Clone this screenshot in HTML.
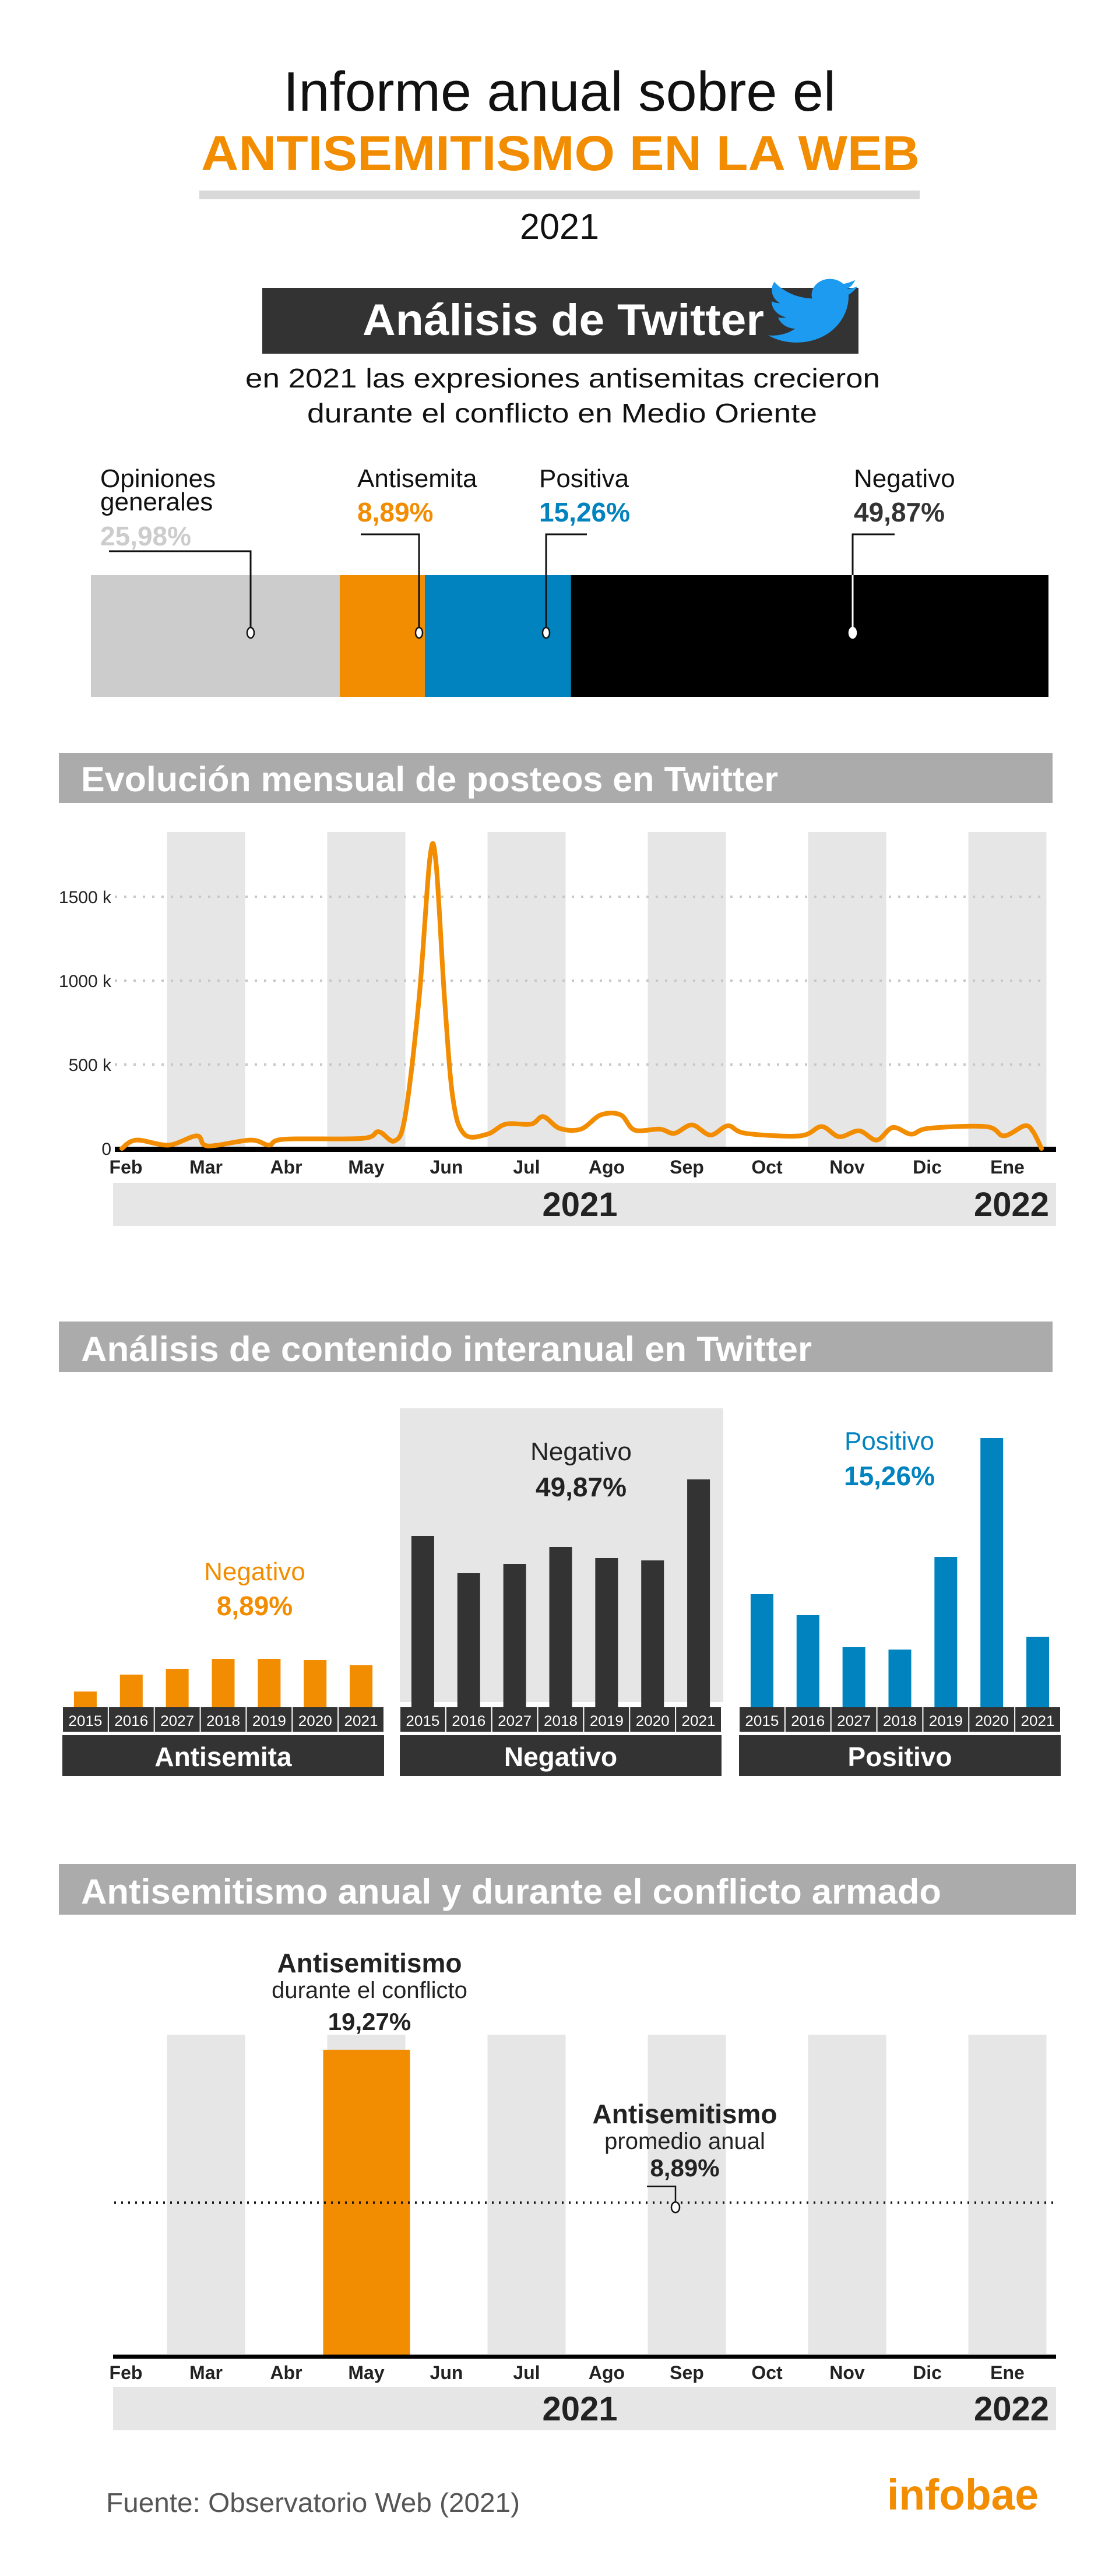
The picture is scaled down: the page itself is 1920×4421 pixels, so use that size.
<!DOCTYPE html>
<html lang="es">
<head>
<meta charset="utf-8">
<title>Informe anual sobre el antisemitismo en la web</title>
<style>
html,body{margin:0;padding:0;background:#fff;}
svg{display:block;}
text{font-family:"Liberation Sans Narrow","Liberation Sans",sans-serif;}
.b{font-weight:bold;}
</style>
</head>
<body>
<svg id="page" width="1920" height="4421" viewBox="0 0 1920 4421" xmlns="http://www.w3.org/2000/svg">
  <rect x="0" y="0" width="1920" height="4421" fill="#fff"/>
  <!-- Title -->
  <text x="486" y="190" font-size="96" fill="#111" textLength="948" lengthAdjust="spacingAndGlyphs">Informe anual sobre el</text>
  <text class="b" x="345" y="292" font-size="84" fill="#F28C00" textLength="1233" lengthAdjust="spacingAndGlyphs">ANTISEMITISMO EN LA WEB</text>
  <rect x="342" y="327" width="1236" height="15" fill="#d9d9d9"/>
  <text x="892" y="410" font-size="62" fill="#111" textLength="136" lengthAdjust="spacingAndGlyphs">2021</text>

  <!-- Twitter heading -->
  <rect x="450" y="494" width="1023" height="113" fill="#333"/>
  <text class="b" x="622" y="575" font-size="76" fill="#fff" textLength="689" lengthAdjust="spacingAndGlyphs">Análisis de Twitter</text>
  <path transform="translate(1318,466) scale(6.4,5.6)" fill="#1D9BF0" d="M23.954 4.569c-.885.389-1.83.654-2.825.775 1.014-.611 1.794-1.574 2.163-2.723-.951.555-2.005.959-3.127 1.184-.896-.959-2.173-1.559-3.591-1.559-2.717 0-4.92 2.203-4.92 4.917 0 .39.045.765.127 1.124C7.691 8.094 4.066 6.13 1.64 3.161c-.427.722-.666 1.561-.666 2.475 0 1.71.87 3.213 2.188 4.096-.807-.026-1.566-.248-2.228-.616v.061c0 2.385 1.693 4.374 3.946 4.827-.413.111-.849.171-1.296.171-.314 0-.615-.03-.916-.086.631 1.953 2.445 3.377 4.604 3.417-1.68 1.319-3.809 2.105-6.102 2.105-.39 0-.779-.023-1.17-.067 2.189 1.394 4.768 2.209 7.557 2.209 9.054 0 13.999-7.496 13.999-13.986 0-.209 0-.42-.015-.63.961-.689 1.8-1.6 2.46-2.548l-.047-.02z"/>
  <text x="421" y="665" font-size="46" fill="#111" textLength="1089" lengthAdjust="spacingAndGlyphs">en 2021 las expresiones antisemitas crecieron</text>
  <text x="527" y="725" font-size="46" fill="#111" textLength="875" lengthAdjust="spacingAndGlyphs">durante el conflicto en Medio Oriente</text>

  <g id="stacked"></g>

  <!-- Section 2 -->
  <rect x="101" y="1292" width="1705" height="86" fill="#ababab"/>
  <text class="b" x="139" y="1358" font-size="60" fill="#fff" textLength="1196" lengthAdjust="spacingAndGlyphs">Evolución mensual de posteos en Twitter</text>
  <g id="linechart"></g>

  <!-- Section 3 -->
  <rect x="101" y="2268" width="1705" height="87" fill="#ababab"/>
  <text class="b" x="139" y="2336" font-size="60" fill="#fff" textLength="1254" lengthAdjust="spacingAndGlyphs">Análisis de contenido interanual en Twitter</text>
  <g id="barpanels"></g>

  <!-- Section 4 -->
  <rect x="101" y="3199" width="1745" height="87" fill="#ababab"/>
  <text class="b" x="139" y="3267" font-size="60" fill="#fff" textLength="1476" lengthAdjust="spacingAndGlyphs">Antisemitismo anual y durante el conflicto armado</text>
  <g id="conflictchart"></g>

  <!-- Footer -->
  <text x="182" y="4311" font-size="46" fill="#555" textLength="710" lengthAdjust="spacingAndGlyphs">Fuente: Observatorio Web (2021)</text>
  <text class="b" x="1522" y="4307" font-size="74" fill="#F28C00" textLength="260" lengthAdjust="spacingAndGlyphs">infobae</text>
</svg>

<script>
// ---------- DATA ----------
const shareNames = ["Opiniones generales", "Antisemita", "Positiva", "Negativo"];
const shareValues = [25.98, 8.89, 15.26, 49.87];

const monthLabels = ["Feb","Mar","Abr","May","Jun","Jul","Ago","Sep","Oct","Nov","Dic","Ene"];
const yTickValues = [0, 500, 1000, 1500];
const yTickLabels = ["0", "500 k", "1000 k", "1500 k"];
// time in months since start of Feb, posts in thousands
const postTimes = [0,0.19,0.61,0.98,1.12,1.68,1.92,2.12,3.14,3.35,3.56,3.70,3.88,4.02,4.10,4.21,4.32,4.47,4.77,5.01,5.34,5.50,5.71,5.99,6.25,6.51,6.69,7.02,7.21,7.44,7.68,7.91,8.14,8.85,9.13,9.36,9.62,9.85,10.06,10.30,10.53,11.28,11.51,11.78,11.89,12.0];
const postValues = [0,50,20,75,15,50,20,55,60,100,45,200,900,1730,1700,900,300,85,85,145,145,190,120,115,200,200,110,115,90,140,80,135,90,75,130,70,105,50,125,85,120,130,75,135,100,0];

const yearLabels = ["2015","2016","2027","2018","2019","2020","2021"];
const antisemitaValues = [27,56,66,83,83,81,72];
const negativoValues = [294,230,246,275,256,252,391];
const positivoValues = [194,158,103,99,258,462,121];

const conflictMonth = "May";
const conflictValue = 19.27;
const annualAverage = 8.89;

// ---------- HELPERS ----------
const NS = "http://www.w3.org/2000/svg";
function mk(parent, tag, attrs, txt){
  const el = document.createElementNS(NS, tag);
  for (const k in attrs) el.setAttribute(k, attrs[k]);
  if (txt !== undefined) el.textContent = txt;
  parent.appendChild(el);
  return el;
}

// ---------- STACKED SHARE BAR ----------
(function(){
  const g = document.getElementById("stacked");
  const x0 = 156, x1 = 1799, y0 = 987, h = 209;
  const total = shareValues.reduce((a,b)=>a+b,0);
  const colors = ["#cccccc","#F28C00","#0083BE","#000000"];
  const names = ["share-bar-opiniones","share-bar-antisemita","share-bar-positiva","share-bar-negativo"];
  let x = x0;
  const segs = [];
  shareValues.forEach((v,i)=>{
    const w = v/total*(x1-x0);
    const r = mk(g,"rect",{x:x,y:y0,width:w,height:h,fill:colors[i]});
    
    
    segs.push([x,w]);
    x += w;
  });
  // labels & leader lines (annotation layout)
  const labelCfg = [
    {lines:["Opiniones","generales"], lx:172, ly:836, vy:936, vc:"#cccccc", px:430, hx:187, hy:946},
    {lines:["Antisemita"], lx:613, ly:836, vy:895, vc:"#F28C00", px:719, hx:619, hy:917},
    {lines:["Positiva"], lx:925, ly:836, vy:895, vc:"#0083BE", px:937, hx:1007, hy:917},
    {lines:["Negativo"], lx:1465, ly:836, vy:895, vc:"#333333", px:1463, hx:1535, hy:917}
  ];
  labelCfg.forEach((c,i)=>{
    c.lines.forEach((ln,j)=>{
      const t = mk(g,"text",{x:c.lx,y:c.ly+j*40,"font-size":44,fill:"#111"}, ln);
      
      
    });
    const pct = mk(g,"text",{x:c.lx,y:c.vy,"font-size":46,fill:c.vc,"font-weight":"bold"}, shareValues[i].toFixed(2).replace(".",",")+"%");
    
    
    const lc = i===3 ? "#ffffff" : "#111";
    const p = mk(g,"path",{d:`M${c.hx},${c.hy} L${c.px},${c.hy} L${c.px},1080`,fill:"none",stroke:"#111","stroke-width":3});
    
    
    if (i===3){
      const p2 = mk(g,"line",{x1:c.px,y1:y0,x2:c.px,y2:1080,stroke:"#fff","stroke-width":3});
      
      
    }
    const ci = mk(g,"ellipse",{cx:c.px,cy:1086,rx:6,ry:9,fill:"#fff",stroke:i===3?"#fff":"#111","stroke-width":2.5});
    
    
  });
})();

// month axis helper
function monthCenter(i){ return 216 + i*137.5; }
function drawMonthAxis(g, axisY, labelY, yearTop, prefix){
  monthLabels.forEach((m,i)=>{
    const t = mk(g,"text",{x:monthCenter(i),y:labelY,"font-size":32,"font-weight":"bold",fill:"#222","text-anchor":"middle"}, m);
    
    
  });
  const yb = mk(g,"rect",{x:194,y:yearTop,width:1618,height:74,fill:"#e6e6e6"});
  
  
  const y1 = mk(g,"text",{x:995,y:yearTop+57,"font-size":58,"font-weight":"bold",fill:"#222","text-anchor":"middle"}, "2021");
  
  
  const y2 = mk(g,"text",{x:1800,y:yearTop+57,"font-size":58,"font-weight":"bold",fill:"#222","text-anchor":"end"}, "2022");
  
  
}
function drawStripes(g, top, bottom, prefix){
  monthLabels.forEach((m,i)=>{
    if (i%2===1){
      const r = mk(g,"rect",{x:monthCenter(i)-67,y:top,width:134,height:bottom-top,fill:"#e6e6e6"});
      
      
    }
  });
}

// ---------- LINE CHART ----------
(function(){
  const g = document.getElementById("linechart");
  const zeroY = 1971, kPerPx = 0.288;
  const yS = v => zeroY - v*kPerPx;
  const xS = t => 209 + t/12*(1787-209);
  drawStripes(g, 1428, 1969, "monthly");
  yTickValues.forEach((v,i)=>{
    if (v>0){
      const l = mk(g,"line",{x1:197,y1:yS(v),x2:1796,y2:yS(v),stroke:"#c8c8c8","stroke-width":4,"stroke-dasharray":"4 12"});
      
      
    }
    const t = mk(g,"text",{x:191,y:yS(v)+11,"font-size":30,fill:"#222","text-anchor":"end"}, yTickLabels[i]);
    
    
  });
  // smooth path (Catmull-Rom)
  const pts = postTimes.map((t,i)=>[xS(t), yS(postValues[i])]);
  let d = `M${pts[0][0]},${pts[0][1]}`;
  for (let i=0;i<pts.length-1;i++){
    const p0 = pts[Math.max(0,i-1)], p1 = pts[i], p2 = pts[i+1], p3 = pts[Math.min(pts.length-1,i+2)];
    const c1 = [p1[0]+(p2[0]-p0[0])/6, p1[1]+(p2[1]-p0[1])/6];
    const c2 = [p2[0]-(p3[0]-p1[0])/6, p2[1]-(p3[1]-p1[1])/6];
    d += ` C${c1[0]},${c1[1]} ${c2[0]},${c2[1]} ${p2[0]},${p2[1]}`;
  }
  const axis = mk(g,"rect",{x:197,y:1968,width:1615,height:9,fill:"#000"});
  
  
  const line = mk(g,"path",{d:d,fill:"none",stroke:"#F28C00","stroke-width":8,"stroke-linejoin":"round","stroke-linecap":"round"});
  
  
  drawMonthAxis(g, 1971, 2014, 2030, "monthly");
})();

// ---------- BAR PANELS ----------
(function(){
  const g = document.getElementById("barpanels");
  const bg = mk(g,"rect",{x:686,y:2417,width:555,height:504,fill:"#e6e6e6"});
  
  
  const baseY = 2930, pxPerUnit = 1;
  const panels = [
    {name:"antisemita", x:107, values:antisemitaValues, color:"#F28C00", title:"Antisemita", l1:"Negativo", l2:"8,89%", lc:"#F28C00", ly1:2712, ly2:2772, lx:437},
    {name:"negativo", x:686, values:negativoValues, color:"#333333", title:"Negativo", l1:"Negativo", l2:"49,87%", lc:"#222", ly1:2506, ly2:2568, lx:997},
    {name:"positivo", x:1268, values:positivoValues, color:"#0083BE", title:"Positivo", l1:"Positivo", l2:"15,26%", lc:"#0083BE", ly1:2488, ly2:2549, lx:1526}
  ];
  const panelW = 552, cellW = panelW/7;
  panels.forEach(p=>{
    p.values.forEach((v,i)=>{
      const cx = p.x + cellW*(i+0.5);
      const h = v*pxPerUnit;
      const r = mk(g,"rect",{x:cx-19.5,y:baseY-h,width:39,height:h,fill:p.color});
      
      
      const c = mk(g,"rect",{x:p.x+cellW*i+1,y:2930,width:cellW-2,height:42,fill:"#333"});
      
      
      const t = mk(g,"text",{x:cx,y:2962,"font-size":25,fill:"#fff","text-anchor":"middle",textLength:58,lengthAdjust:"spacingAndGlyphs"}, yearLabels[i]);
      
      
    });
    const nb = mk(g,"rect",{x:p.x,y:2978,width:panelW,height:70,fill:"#333"});
    
    
    const nt = mk(g,"text",{x:p.x+panelW/2,y:3031,"font-size":46,"font-weight":"bold",fill:"#fff","text-anchor":"middle"}, p.title);
    
    
    const a = mk(g,"text",{x:p.lx,y:p.ly1,"font-size":44,fill:p.lc,"text-anchor":"middle"}, p.l1);
    
    
    const b = mk(g,"text",{x:p.lx,y:p.ly2,"font-size":46,"font-weight":"bold",fill:p.lc,"text-anchor":"middle"}, p.l2);
    
    
  });
})();

// ---------- CONFLICT CHART ----------
(function(){
  const g = document.getElementById("conflictchart");
  const zeroY = 4042, pxPerPct = 27.2;
  const yS = v => zeroY - v*pxPerPct;
  drawStripes(g, 3492, 4040, "conflict");
  const mi = monthLabels.indexOf(conflictMonth);
  const bx = monthCenter(mi);
  const bar = mk(g,"rect",{x:bx-74,y:yS(conflictValue),width:149,height:conflictValue*pxPerPct,fill:"#F28C00"});
  
  
  const avgY = yS(annualAverage) - 20;
  const avg = mk(g,"line",{x1:196,y1:avgY,x2:1810,y2:avgY,stroke:"#111","stroke-width":4,"stroke-dasharray":"3 9"});
  
  
  const ld = mk(g,"path",{d:`M1110,${avgY-28} L1159,${avgY-28} L1159,${avgY+2}`,fill:"none",stroke:"#111","stroke-width":2.5});
  
  
  const dot = mk(g,"ellipse",{cx:1159,cy:avgY+8,rx:7,ry:9,fill:"#fff",stroke:"#111","stroke-width":2.5});
  
  
  const axis = mk(g,"rect",{x:194,y:4041,width:1618,height:7,fill:"#000"});
  
  
  const t1 = mk(g,"text",{x:634,y:3385,"font-size":46,"font-weight":"bold",fill:"#222","text-anchor":"middle"}, "Antisemitismo");
  
  
  const t2 = mk(g,"text",{x:634,y:3429,"font-size":40,fill:"#222","text-anchor":"middle"}, "durante el conflicto");
  
  
  const t3 = mk(g,"text",{x:634,y:3484,"font-size":42,"font-weight":"bold",fill:"#222","text-anchor":"middle"}, conflictValue.toFixed(2).replace(".",",")+"%");
  
  
  const a1 = mk(g,"text",{x:1175,y:3644,"font-size":46,"font-weight":"bold",fill:"#222","text-anchor":"middle"}, "Antisemitismo");
  
  
  const a2 = mk(g,"text",{x:1175,y:3688,"font-size":40,fill:"#222","text-anchor":"middle"}, "promedio anual");
  
  
  const a3 = mk(g,"text",{x:1175,y:3735,"font-size":42,"font-weight":"bold",fill:"#222","text-anchor":"middle"}, annualAverage.toFixed(2).replace(".",",")+"%");
  
  
  drawMonthAxis(g, 4042, 4083, 4097, "conflict");
})();
</script>
</body>
</html>
